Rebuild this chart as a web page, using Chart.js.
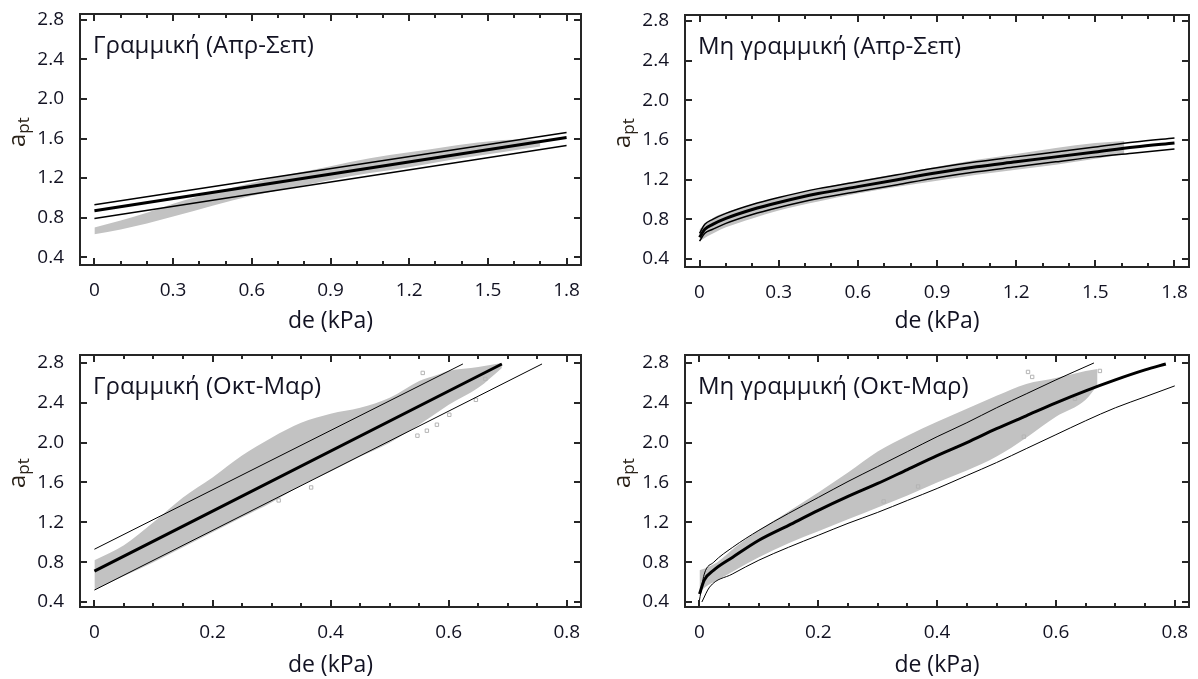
<!DOCTYPE html>
<html>
<head>
<meta charset="utf-8">
<script src="https://cdn.jsdelivr.net/npm/chart.js@4.4.0/dist/chart.umd.min.js"></script>
<style>
  html, body { margin: 0; padding: 0; background: #fff; }
  #wrap { position: relative; width: 1198px; height: 679px; overflow: hidden; }
  .panel { position: absolute; }
</style>
</head>
<body>
<div id="wrap">
  <div class="panel" style="left:0;top:0"><canvas id="c1" width="599" height="340"></canvas></div>
  <div class="panel" style="left:599px;top:0"><canvas id="c2" width="599" height="340"></canvas></div>
  <div class="panel" style="left:0;top:340px"><canvas id="c3" width="599" height="339"></canvas></div>
  <div class="panel" style="left:599px;top:340px"><canvas id="c4" width="599" height="339"></canvas></div>
</div>
<script>
// ========== DATA ==========

// tick labels
const yTicks = [0.4, 0.8, 1.2, 1.6, 2.0, 2.4, 2.8];
const xTicksAprSep = [0, 0.3, 0.6, 0.9, 1.2, 1.5, 1.8];
const xMinorAprSep = [0.1, 0.2, 0.4, 0.5, 0.7, 0.8, 1.0, 1.1, 1.3, 1.4, 1.6, 1.7];
const xTicksOctMar = [0, 0.2, 0.4, 0.6, 0.8];
const xMinorOctMar = [0.05, 0.1, 0.15, 0.25, 0.3, 0.35, 0.45, 0.5, 0.55, 0.65, 0.7, 0.75];

// panel 1: Γραμμική (Απρ-Σεπ)
const p1FitX = [0, 1.8];
const p1Fit = [0.87, 1.61];
const p1UpperX = [0, 1.8];
const p1Upper = [0.93, 1.66];
const p1LowerX = [0, 1.8];
const p1Lower = [0.79, 1.53];
const p1BandX = [0, 0.1, 0.2, 0.3, 0.45, 0.6, 0.75, 0.9, 1.05, 1.2, 1.35, 1.5, 1.62, 1.7];
const p1BandTop = [0.70, 0.77, 0.85, 0.94, 1.05, 1.15, 1.24, 1.32, 1.40, 1.46, 1.52, 1.57, 1.59, 1.58];
const p1BandBottom = [0.63, 0.68, 0.74, 0.81, 0.92, 1.02, 1.10, 1.18, 1.25, 1.31, 1.38, 1.44, 1.49, 1.52];
const p1OutX = [];
const p1OutY = [];

// panel 2: Μη γραμμική (Απρ-Σεπ)
const p2FitX = [0, 0.02, 0.05, 0.1, 0.2, 0.3, 0.45, 0.6, 0.75, 0.9, 1.05, 1.2, 1.35, 1.5, 1.65, 1.8];
const p2Fit = [0.62, 0.70, 0.75, 0.81, 0.90, 0.97, 1.06, 1.13, 1.20, 1.27, 1.33, 1.38, 1.43, 1.48, 1.53, 1.57];
const p2UpperX = p2FitX;
const p2Upper = [0.66, 0.75, 0.80, 0.86, 0.95, 1.02, 1.11, 1.18, 1.25, 1.32, 1.38, 1.43, 1.48, 1.53, 1.58, 1.62];
const p2LowerX = p2FitX;
const p2Lower = [0.58, 0.66, 0.70, 0.76, 0.85, 0.92, 1.01, 1.08, 1.15, 1.22, 1.28, 1.33, 1.38, 1.43, 1.47, 1.51];
const p2BandX = [0, 0.03, 0.06, 0.1, 0.2, 0.3, 0.45, 0.6, 0.75, 0.9, 1.05, 1.2, 1.35, 1.5, 1.61];
const p2BandTop = [0.70, 0.77, 0.83, 0.87, 0.95, 1.02, 1.11, 1.19, 1.26, 1.33, 1.40, 1.46, 1.52, 1.57, 1.59];
const p2BandBottom = [0.58, 0.63, 0.67, 0.72, 0.81, 0.89, 0.98, 1.06, 1.13, 1.19, 1.25, 1.30, 1.35, 1.41, 1.46];
const p2OutX = [];
const p2OutY = [];

// panel 3: Γραμμική (Οκτ-Μαρ)
const p3FitX = [0, 0.69];
const p3Fit = [0.71, 2.79];
const p3UpperX = [0, 0.624];
const p3Upper = [0.93, 2.79];
const p3LowerX = [0, 0.758];
const p3Lower = [0.52, 2.79];
const p3BandX = [0, 0.05, 0.1, 0.15, 0.2, 0.25, 0.3, 0.35, 0.4, 0.45, 0.5, 0.55, 0.58, 0.6, 0.65, 0.69];
const p3BandTop = [0.82, 0.97, 1.20, 1.45, 1.65, 1.87, 2.05, 2.20, 2.29, 2.35, 2.45, 2.62, 2.68, 2.72, 2.76, 2.80];
const p3BandBottom = [0.52, 0.66, 0.80, 0.95, 1.10, 1.25, 1.40, 1.57, 1.71, 1.86, 2.00, 2.18, 2.30, 2.38, 2.55, 2.75];
const p3OutX = [0.556, 0.662, 0.646, 0.563, 0.547, 0.367, 0.312, 0.601, 0.58];
const p3OutY = [2.70, 2.64, 2.43, 2.12, 2.07, 1.55, 1.42, 2.28, 2.18];

// panel 4: Μη γραμμική (Οκτ-Μαρ)
const p4FitX = [0, 0.008, 0.024, 0.056, 0.1, 0.15, 0.2, 0.25, 0.3, 0.35, 0.4, 0.45, 0.5, 0.55, 0.6, 0.65, 0.7, 0.75, 0.785];
const p4Fit = [0.48, 0.62, 0.72, 0.85, 1.02, 1.17, 1.32, 1.46, 1.59, 1.73, 1.87, 2.00, 2.14, 2.27, 2.40, 2.52, 2.63, 2.73, 2.79];
const p4UpperX = [0, 0.008, 0.024, 0.056, 0.1, 0.15, 0.2, 0.25, 0.3, 0.35, 0.4, 0.45, 0.5, 0.55, 0.6, 0.664];
const p4Upper = [0.42, 0.68, 0.80, 0.95, 1.12, 1.29, 1.45, 1.61, 1.76, 1.91, 2.06, 2.20, 2.35, 2.49, 2.63, 2.80];
const p4LowerX = [0.004, 0.017, 0.055, 0.1, 0.15, 0.2, 0.25, 0.3, 0.35, 0.4, 0.45, 0.5, 0.55, 0.6, 0.65, 0.7, 0.75, 0.8];
const p4Lower = [0.40, 0.55, 0.68, 0.82, 0.95, 1.07, 1.19, 1.30, 1.42, 1.54, 1.67, 1.80, 1.94, 2.08, 2.22, 2.35, 2.46, 2.57];
const p4BandX = [0, 0.01, 0.03, 0.06, 0.1, 0.15, 0.2, 0.25, 0.3, 0.35, 0.4, 0.45, 0.5, 0.55, 0.6, 0.65, 0.67];
const p4BandTop = [0.72, 0.74, 0.80, 0.95, 1.12, 1.31, 1.50, 1.70, 1.91, 2.07, 2.21, 2.34, 2.47, 2.59, 2.65, 2.72, 2.74];
const p4BandBottom = [0.50, 0.55, 0.62, 0.72, 0.85, 0.99, 1.11, 1.23, 1.35, 1.47, 1.60, 1.72, 1.86, 2.05, 2.26, 2.43, 2.58];
const p4OutX = [0.553, 0.674, 0.632, 0.546, 0.368, 0.31, 0.56];
const p4OutY = [2.71, 2.72, 2.44, 2.06, 1.56, 1.41, 2.66];

// ========== STYLE ==========
const FONT = '"Open Sans", "Noto Sans", sans-serif';
const TEXT_COLOR = '#121222';
const FRAME_COLOR = '#262626';
const BAND_COLOR = '#c2c2c2';

const zip = (xs, ys) => xs.map((x, i) => ({ x: x, y: ys[i] }));

/**
 * Marco, marcas de división hacia dentro, título y etiqueta a_pt
 */
function makeFramePlugin(p) {
    return {
        id: 'frame_' + p.id,
        afterDraw(chart) {
            const ctx = chart.ctx;
            const a = chart.chartArea;
            const xs = chart.scales.x, ys = chart.scales.y;
            const L = Math.round(a.left), R = Math.round(a.right);
            const T = Math.round(a.top), B = Math.round(a.bottom);
            ctx.save();
            ctx.fillStyle = FRAME_COLOR;

            // marco
            ctx.fillRect(L - 1, T - 1, R - L + 2, 2);
            ctx.fillRect(L - 1, B - 1, R - L + 2, 2);
            ctx.fillRect(L - 1, T - 1, 2, B - T + 2);
            ctx.fillRect(R - 1, T - 1, 2, B - T + 2);

            // marcas hacia dentro
            const xTick = (v, len) => {
                const px = Math.round(xs.getPixelForValue(v));
                ctx.fillRect(px - 1, B - len, 2, len);
                ctx.fillRect(px - 1, T, 2, len);
            };
            p.xTicks.forEach(v => xTick(v, 7));
            p.xMinor.forEach(v => xTick(v, 4));
            yTicks.forEach(v => {
                const py = Math.round(ys.getPixelForValue(v));
                ctx.fillRect(L, py - 1, 7, 2);
                ctx.fillRect(R - 7, py - 1, 7, 2);
            });

            // título dentro del gráfico
            ctx.fillStyle = TEXT_COLOR;
            ctx.font = '24px ' + FONT;
            ctx.textBaseline = 'alphabetic';
            ctx.textAlign = 'left';
            ctx.fillText(p.title, L + 13, T + 39);

            // a_pt (con subíndice)
            ctx.translate(L - 55, T + 133);
            ctx.rotate(-Math.PI / 2);
            ctx.fillStyle = '#2a2218';
            ctx.font = '24px ' + FONT;
            ctx.fillText('a', 0, 0);
            const w = ctx.measureText('a').width;
            ctx.font = '17px ' + FONT;
            ctx.fillText('pt', w, 4);
            ctx.restore();
        }
    };
}

/**
 * Crear un panel
 */
function createPanel(id, p) {
    const canvas = document.getElementById(id);
    const W = canvas.width, H = canvas.height;
    p.id = id;

    const line = (xs, ys, width) => ({
        data: zip(xs, ys),
        showLine: true,
        borderColor: '#000000',
        borderWidth: width,
        pointRadius: 0,
        cubicInterpolationMode: 'monotone',
        fill: false
    });

    const datasets = [
        line(p.fitX, p.fit, 3),
        line(p.upperX, p.upper, p.boundWidth),
        line(p.lowerX, p.lower, p.boundWidth),
        {
            data: zip(p.outX, p.outY),
            showLine: false,
            pointStyle: 'rect',
            pointRadius: 2.4,
            borderWidth: 1,
            borderColor: '#b4b4b4',
            backgroundColor: 'rgba(255,255,255,0)'
        },
        {
            data: zip(p.bandX, p.bandBottom),
            showLine: true,
            borderWidth: 0,
            borderColor: 'rgba(0,0,0,0)',
            pointRadius: 0,
            cubicInterpolationMode: 'monotone',
            fill: false
        },
        {
            data: zip(p.bandX, p.bandTop),
            showLine: true,
            borderWidth: 0,
            borderColor: 'rgba(0,0,0,0)',
            backgroundColor: BAND_COLOR,
            pointRadius: 0,
            cubicInterpolationMode: 'monotone',
            fill: { target: 4 }
        }
    ];

    return new Chart(canvas, {
        type: 'scatter',
        data: { datasets: datasets },
        options: {
            responsive: false,
            animation: false,
            events: [],
            layout: {
                padding: { left: 0, top: p.area.t, right: W - p.area.r, bottom: 0 }
            },
            plugins: {
                legend: { display: false },
                tooltip: { enabled: false }
            },
            scales: {
                x: {
                    type: 'linear',
                    min: p.xMin,
                    max: p.xMax,
                    afterBuildTicks: axis => { axis.ticks = p.xTicks.map(v => ({ value: v })); },
                    afterFit: s => { s.height = H - p.area.b; s.paddingLeft = 0; s.paddingRight = 0; },
                    grid: { display: false },
                    border: { display: false },
                    ticks: {
                        color: TEXT_COLOR,
                        font: { family: FONT, size: 19 },
                        padding: 6,
                        maxRotation: 0,
                        autoSkip: false,
                        callback: v => (v === 0 ? '0' : v.toFixed(1))
                    },
                    title: {
                        display: true,
                        text: 'de (kPa)',
                        color: TEXT_COLOR,
                        font: { family: FONT, size: 23 },
                        padding: { top: 0, bottom: p.titlePad }
                    }
                },
                y: {
                    type: 'linear',
                    min: p.yMin,
                    max: p.yMax,
                    afterBuildTicks: axis => { axis.ticks = yTicks.map(v => ({ value: v })); },
                    afterFit: s => { s.width = p.area.l; s.paddingTop = 0; s.paddingBottom = 0; },
                    grid: { display: false },
                    border: { display: false },
                    ticks: {
                        color: TEXT_COLOR,
                        font: { family: FONT, size: 19 },
                        padding: 8,
                        autoSkip: false,
                        callback: v => v.toFixed(1)
                    }
                }
            }
        },
        plugins: [makeFramePlugin(p)]
    });
}

createPanel('c1', {
    title: 'Γραμμική (Απρ-Σεπ)',
    area: { l: 80, r: 581, t: 14, b: 265 }, titlePad: 5,
    xMin: -0.055, xMax: 1.855, yMin: 0.32, yMax: 2.86,
    xTicks: xTicksAprSep, xMinor: xMinorAprSep, boundWidth: 1.5,
    fitX: p1FitX, fit: p1Fit, upperX: p1UpperX, upper: p1Upper, lowerX: p1LowerX, lower: p1Lower,
    bandX: p1BandX, bandTop: p1BandTop, bandBottom: p1BandBottom, outX: p1OutX, outY: p1OutY
});

createPanel('c2', {
    title: 'Μη γραμμική (Απρ-Σεπ)',
    area: { l: 86, r: 590, t: 15, b: 267 }, titlePad: 5,
    xMin: -0.055, xMax: 1.855, yMin: 0.32, yMax: 2.86,
    xTicks: xTicksAprSep, xMinor: xMinorAprSep, boundWidth: 1.5,
    fitX: p2FitX, fit: p2Fit, upperX: p2UpperX, upper: p2Upper, lowerX: p2LowerX, lower: p2Lower,
    bandX: p2BandX, bandTop: p2BandTop, bandBottom: p2BandBottom, outX: p2OutX, outY: p2OutY
});

createPanel('c3', {
    title: 'Γραμμική (Οκτ-Μαρ)',
    area: { l: 80, r: 581, t: 15, b: 267 }, titlePad: 0,
    xMin: -0.0244, xMax: 0.824, yMin: 0.35, yMax: 2.88,
    xTicks: xTicksOctMar, xMinor: xMinorOctMar, boundWidth: 1,
    fitX: p3FitX, fit: p3Fit, upperX: p3UpperX, upper: p3Upper, lowerX: p3LowerX, lower: p3Lower,
    bandX: p3BandX, bandTop: p3BandTop, bandBottom: p3BandBottom, outX: p3OutX, outY: p3OutY
});

createPanel('c4', {
    title: 'Μη γραμμική (Οκτ-Μαρ)',
    area: { l: 86, r: 590, t: 15, b: 267 }, titlePad: 0,
    xMin: -0.0244, xMax: 0.824, yMin: 0.35, yMax: 2.88,
    xTicks: xTicksOctMar, xMinor: xMinorOctMar, boundWidth: 1,
    fitX: p4FitX, fit: p4Fit, upperX: p4UpperX, upper: p4Upper, lowerX: p4LowerX, lower: p4Lower,
    bandX: p4BandX, bandTop: p4BandTop, bandBottom: p4BandBottom, outX: p4OutX, outY: p4OutY
});
</script>
</body>
</html>
